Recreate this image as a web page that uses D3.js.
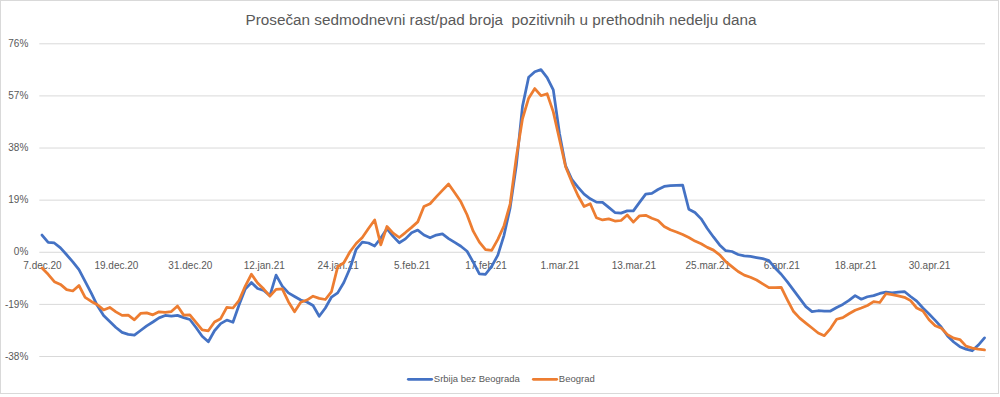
<!DOCTYPE html>
<html>
<head>
<meta charset="utf-8">
<script src="https://cdn.jsdelivr.net/npm/d3@7"></script>
<style>
    body { margin: 0; background: #fff; }
    text { font-family: "Liberation Sans", Arial, sans-serif; fill: #595959; }
</style>
</head>
<body>
<svg width="1000" height="397"></svg>
<script>
(function (d3) {
    'use strict';

    const title = 'Prosečan sedmodnevni rast/pad broja  pozitivnih u prethodnih nedelju dana';
    const seriesNames = ['Srbija bez Beograda', 'Beograd'];
    const seriesColors = ['#4472C4', '#ED7D31'];

    const xTickLabels = ['7.dec.20', '19.dec.20', '31.dec.20', '12.jan.21', '24.jan.21', '5.feb.21',
        '17.feb.21', '1.mar.21', '13.mar.21', '25.mar.21', '6.apr.21', '18.apr.21', '30.apr.21'];
    const yTicks = [-38, -19, 0, 19, 38, 57, 76];

    // daily values, 7.dec.20 - 9.may.21 (%)
    const srbija = [
        6.1, 3.4, 3.2, 1.4, -1.1, -3.7, -6.5, -10.8, -15.1, -19.7,
        -23.2, -25.4, -27.6, -29.4, -30.1, -30.4, -28.7, -27.0, -25.6, -24.1,
        -23.2, -23.5, -23.2, -24.0, -24.7, -27.6, -30.8, -32.8, -28.8, -26.2,
        -24.9, -25.7, -19.3, -13.6, -11.2, -13.4, -14.1, -16.0, -8.5, -12.5,
        -15.0, -16.3, -17.6, -18.3, -19.6, -23.5, -20.5, -16.5, -15.0, -11.2,
        -6.0, 0.9, 3.5, 3.2, 2.1, 5.0, 8.4, 5.6, 3.3, 4.7,
        6.9, 7.9, 6.1, 5.1, 6.1, 6.5, 4.8, 3.4, 2.0, 0.2,
        -3.8, -8.1, -8.2, -5.3, -1.2, 6.0, 16.1, 31.5, 53.0, 63.6,
        65.6, 66.4, 63.5, 59.0, 43.2, 31.3, 26.4, 23.6, 21.0, 19.3,
        18.1, 18.0, 16.2, 14.3, 14.1, 14.9, 14.9, 18.0, 21.0, 21.3,
        22.7, 23.8, 24.1, 24.2, 24.3, 15.5, 14.3, 12.0, 8.5, 5.4,
        2.5, 0.4, 0.1, -1.0, -1.5, -1.7, -2.1, -2.5, -3.2, -5.9,
        -8.2, -11.0, -14.0, -17.0, -20.0, -21.8, -21.5, -21.6, -21.6, -20.3,
        -19.2, -17.7, -16.0, -17.3, -16.4, -16.0, -15.2, -14.7, -15.0, -14.7,
        -14.5, -16.3, -18.0, -20.5, -22.7, -25.0, -27.5, -30.7, -32.9, -34.6,
        -35.5, -36.1, -34.0, -31.4
    ];

    const beograd = [
        -5.9, -8.2, -10.9, -11.9, -13.8, -14.3, -12.3, -16.6, -18.1, -19.3,
        -21.2, -20.3, -21.9, -23.2, -23.1, -24.8, -22.5, -22.3, -23.0, -21.9,
        -22.1, -21.8, -19.8, -23.1, -23.0, -25.7, -28.5, -28.8, -25.6, -24.4,
        -20.3, -20.5, -17.7, -12.5, -8.2, -11.4, -13.6, -16.2, -13.7, -13.5,
        -18.2, -21.9, -18.4, -17.6, -16.2, -17.0, -17.4, -14.5, -5.5, -4.0,
        0.0, 3.0, 5.2, 8.5, 11.6, 2.5, 9.2, 6.8, 5.2, 7.0,
        8.9, 10.9, 16.5, 17.5, 20.0, 22.4, 24.7, 21.5, 18.2, 13.5,
        7.5, 3.5, 0.8, 0.5, 4.5, 9.5, 17.5, 34.5, 48.5, 56.0,
        59.5, 56.9, 57.6, 51.0, 41.0, 31.0, 25.5, 20.5, 16.5, 17.5,
        12.4, 11.6, 12.0, 11.2, 11.4, 13.4, 10.8, 13.1, 13.3, 12.2,
        11.4, 9.2, 8.0, 7.2, 6.3, 5.2, 3.9, 2.9, 1.6, 0.6,
        -1.1, -3.6, -5.4, -7.2, -8.5, -9.3, -10.3, -11.7, -13.1, -13.1,
        -13.0, -17.5, -21.8, -24.2, -26.0, -27.8, -29.6, -30.6, -28.0, -24.6,
        -24.0, -22.6, -21.3, -20.5, -19.6, -18.2, -18.5, -15.3, -15.6, -16.1,
        -16.6, -17.8, -20.5, -21.6, -24.8, -27.0, -27.9, -30.2, -31.5, -32.0,
        -34.4, -35.1, -35.5, -35.8
    ];

    const svg = d3.select('svg');
    const plotLeft = 39.3;
    const plotRight = 985;

    const x = d3.scaleLinear().domain([0, srbija.length - 1]).range([42, 984.5]);
    const y = d3.scaleLinear().domain([-38, 76]).range([356, 43.3]);
    const xTickIdx = xTickLabels.map((d, i) => i * 12);

    svg.append('rect')
        .attr('x', 0.5).attr('y', 0.5)
        .attr('width', 998).attr('height', 393)
        .attr('fill', '#fff')
        .attr('stroke', '#d9d9d9');

    svg.append('text')
        .attr('x', 501)
        .attr('y', 24.5)
        .attr('text-anchor', 'middle')
        .attr('font-size', 15.5)
        .attr('textLength', 511)
        .attr('lengthAdjust', 'spacingAndGlyphs')
        .style('white-space', 'pre')
        .text(title);

    const yAxisG = svg.append('g')
        .attr('transform', `translate(${plotLeft},0)`)
        .call(d3.axisLeft(y)
            .tickValues(yTicks)
            .tickSize(-(plotRight - plotLeft))
            .tickPadding(11)
            .tickFormat(d => d + '%'));
    yAxisG.select('.domain').remove();
    yAxisG.selectAll('.tick line').attr('stroke', '#d9d9d9');
    yAxisG.selectAll('.tick text')
        .attr('font-size', 10)
        .attr('font-family', null)
        .attr('fill', null);

    const xAxisG = svg.append('g')
        .attr('transform', `translate(0,${y(0)})`)
        .call(d3.axisBottom(x)
            .tickValues(xTickIdx)
            .tickSize(0)
            .tickPadding(10)
            .tickFormat((d, i) => xTickLabels[i]));
    xAxisG.select('.domain').remove();
    xAxisG.selectAll('.tick text')
        .attr('font-size', 10)
        .attr('font-family', null)
        .attr('fill', null);

    const lineGen = d3.line()
        .x((d, i) => x(i))
        .y(d => y(d));

    svg.selectAll('path.series').data([srbija, beograd])
        .enter().append('path')
        .attr('class', 'series')
        .attr('d', lineGen)
        .attr('fill', 'none')
        .attr('stroke', (d, i) => seriesColors[i])
        .attr('stroke-width', 2.75)
        .attr('stroke-linejoin', 'round')
        .attr('stroke-linecap', 'round');

    const legendX = [408.3, 533.3];
    const legend = svg.selectAll('g.legend').data(seriesNames)
        .enter().append('g')
        .attr('class', 'legend')
        .attr('transform', (d, i) => `translate(${legendX[i]},379.3)`);
    legend.append('line')
        .attr('x1', 0).attr('x2', 23.4)
        .attr('stroke', (d, i) => seriesColors[i])
        .attr('stroke-width', 2.75)
        .attr('stroke-linecap', 'round');
    legend.append('text')
        .attr('x', 25.5)
        .attr('y', 3)
        .attr('font-size', 9.5)
        .text(d => d);

}(d3));
</script>
</body>
</html>
